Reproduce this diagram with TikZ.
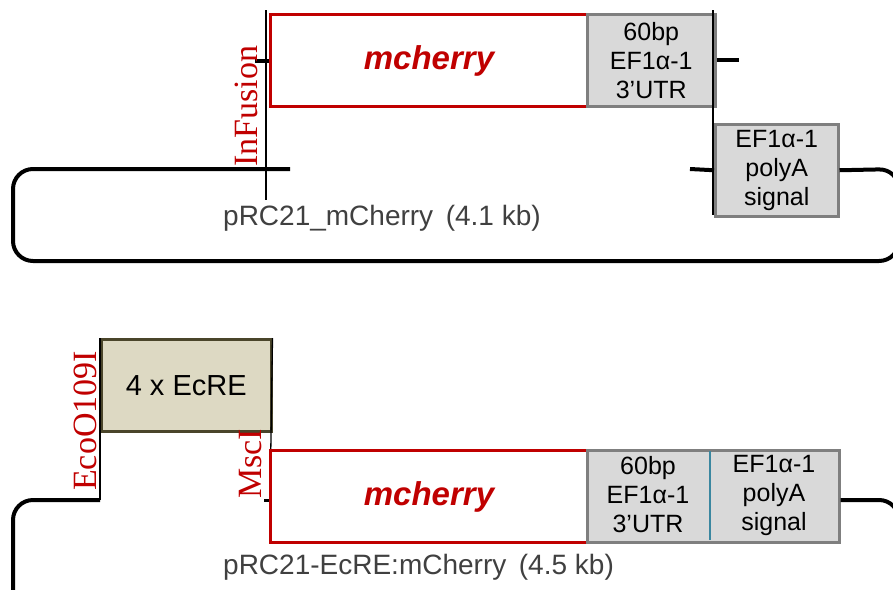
\documentclass[tikz,border=0pt]{standalone}
\usepackage{fontspec}
\setmainfont{Liberation Serif}
\newfontfamily\arialf{Liberation Sans}
\definecolor{mred}{HTML}{C00000}
\definecolor{boxgray}{HTML}{D9D9D9}
\definecolor{edgegray}{HTML}{7F7F7F}
\definecolor{tanfill}{HTML}{DDD9C3}
\definecolor{tanedge}{HTML}{4A452A}
\definecolor{divteal}{HTML}{3A87A0}
\definecolor{txtgray}{HTML}{404040}
\begin{document}
\begin{tikzpicture}[x=1pt,y=-1pt,
  cdsbox/.style={draw=mred, line width=3pt, fill=white, inner sep=0pt,
    minimum width=317pt, minimum height=92pt, anchor=north west,
    text=mred, font=\arialf\bfseries\itshape\fontsize{33}{36}\selectfont},
  graybox/.style={draw=edgegray, line width=2.5pt, fill=boxgray, inner sep=0pt,
    minimum height=92pt, anchor=north west, align=center,
    font=\arialf\fontsize{25}{29}\selectfont},
  boxtext/.style={inner sep=0pt, align=center, font=\arialf\fontsize{25}{29}\selectfont},
  tanbox/.style={draw=tanedge, line width=2.5pt, fill=tanfill, inner sep=0pt,
    minimum width=170pt, minimum height=92pt, anchor=north west,
    font=\arialf\fontsize{29}{30}\selectfont},
  backbone/.style={line width=4pt, draw=black},
  thinline/.style={line width=1.3pt, draw=black},
  sitelabel/.style={rotate=90, anchor=base west, inner sep=0pt, text=mred,
    font=\fontsize{34}{34}\selectfont},
  plasmidlabel/.style={anchor=base west, inner sep=0pt, text=txtgray,
    font=\arialf\fontsize{28}{28}\selectfont},
]
\useasboundingbox (0,0) rectangle (893,589);

% ---------- top construct ----------
\coordinate (t1) at (290,169);
\coordinate (t2) at (690,169);
\coordinate (vtop) at (266,10);
\coordinate (vbot) at (266,200);
\coordinate (wtop) at (713,10);
\coordinate (wbot) at (713,215);

\draw[backbone, rounded corners=20pt] (899,169) -- (899,261) -- (13,261) -- (13,169) -- (t1);

\node[cdsbox] (cds1) at (269,13) {mcherry};
\node[graybox, minimum width=128pt] (utr1) at (586,13) {60bp\\EF1α-1\\3’UTR};
\node[graybox, minimum width=123pt] (pa1) at (714,123) {EF1α-1\\polyA\\signal};

\draw[backbone, rounded corners=20pt] (pa1.east) -- (899,169) -- (899,200);
\draw[backbone] (t2) -- (pa1.west);
\draw[backbone] (utr1.east) -- ++(22,0);
\draw[backbone] (cds1.west) -- ++(-14,0);
\draw[thinline] (vtop) -- (vbot);
\draw[thinline] (wtop) -- (wbot);

\node[sitelabel] (infusion) at (257,167) {InFusion};
\node[plasmidlabel] (p1) at (223,225) {pRC21\_mCherry\hspace{0.45em}(4.1 kb)};

% ---------- bottom construct ----------
\coordinate (b1) at (100,500);
\coordinate (b2) at (270,502);
\coordinate (b3) at (264,500);

\node[tanbox] (ecre) at (100,338) {4 x EcRE};
\draw[backbone, rounded corners=20pt] (b1) -- (13,500) -- (13,650);
\draw[thinline] (ecre.north west) -- (b1);
\draw[thinline] (ecre.north east) -- (b2);
\draw[line width=3pt] (b3) -- ++(5,0);

\node[cdsbox] (cds2) at (269,449) {mcherry};
\node[graybox, minimum width=252pt, anchor=north west] (grp) at (586,449) {};
\node[boxtext] (utr2) at (648,495) {60bp\\EF1α-1\\3’UTR};
\node[boxtext] (pa2) at (774,495) {EF1α-1\\polyA\\signal};
\draw[divteal, line width=1.5pt] (710,450.5) -- (710,539.5);
\draw[backbone, rounded corners=20pt] (grp.east |- b1) -- (899,500) -- (899,650);

\node[sitelabel] (eco) at (96,491) {EcoO109I};
\node[sitelabel] (msc) at (261,499) {MscI};
\node[plasmidlabel] (p2) at (223,574) {pRC21-EcRE:mCherry\hspace{0.45em}(4.5 kb)};
\end{tikzpicture}
\end{document}
